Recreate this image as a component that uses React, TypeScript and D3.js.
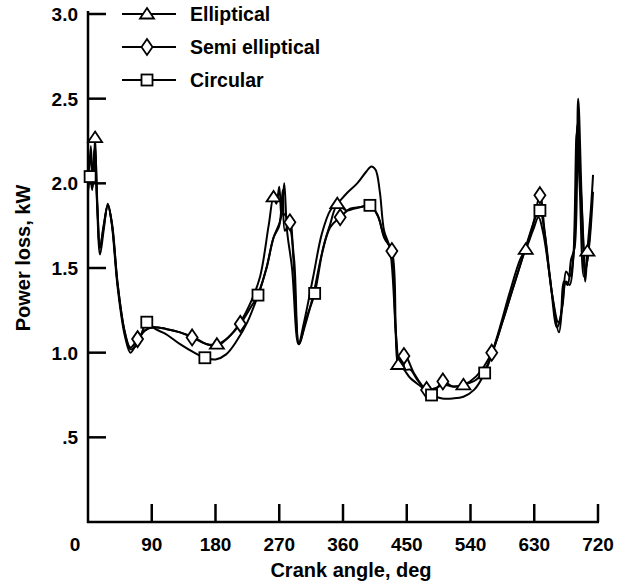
import * as React from 'react'
import * as d3 from 'd3'

// crank angle (deg) / power loss (kW)
const ellipticalAngle = [0, 4, 7, 10, 13, 17, 22, 28, 33, 42, 52, 60, 70, 80, 92, 110, 130, 150, 168, 182, 198, 215, 230, 243, 255, 262, 266, 270, 273, 277, 281, 288, 297, 305, 318, 330, 342, 352, 365, 380, 393, 400, 406, 412, 418, 426, 433, 438, 443, 448, 455, 465, 478, 490, 502, 515, 530, 548, 563, 578, 595, 610, 618, 628, 636, 642, 652, 662, 667, 672, 677, 682, 687, 692, 697, 702, 705, 710, 713]
const ellipticalLoss = [1.95, 2.22, 1.98, 2.27, 1.85, 1.58, 1.72, 1.88, 1.78, 1.38, 1.10, 1.00, 1.07, 1.13, 1.15, 1.14, 1.12, 1.09, 1.05, 1.05, 1.09, 1.18, 1.30, 1.45, 1.75, 1.92, 1.88, 1.98, 1.80, 2.0, 1.72, 1.50, 1.05, 1.18, 1.45, 1.70, 1.84, 1.88, 1.94, 2.0, 2.07, 2.10, 2.08, 1.95, 1.72, 1.62, 1.25, 0.93, 0.98, 0.90, 0.90, 0.84, 0.78, 0.79, 0.81, 0.80, 0.81, 0.84, 0.92, 1.10, 1.35, 1.55, 1.61, 1.72, 1.80, 1.72, 1.45, 1.15, 1.20, 1.42, 1.40, 1.55, 1.62, 2.50, 1.90, 1.42, 1.60, 1.85, 2.05]
const ellipticalMarks = [10, 182, 262, 352, 438, 530, 618, 705]

const semiAngle = [0, 4, 7, 10, 13, 17, 22, 28, 34, 42, 52, 60, 70, 80, 92, 110, 130, 147, 168, 182, 198, 215, 230, 240, 252, 262, 270, 275, 278, 285, 290, 298, 305, 318, 330, 342, 356, 370, 385, 398, 410, 418, 429, 435, 440, 446, 450, 460, 478, 490, 501, 515, 530, 548, 570, 585, 600, 615, 628, 638, 645, 655, 664, 670, 675, 680, 686, 691, 696, 703, 708, 713]
const semiLoss = [1.95, 2.15, 2.05, 2.22, 1.90, 1.62, 1.75, 1.87, 1.75, 1.40, 1.12, 1.03, 1.08, 1.13, 1.15, 1.14, 1.12, 1.09, 1.05, 1.04, 1.09, 1.17, 1.27, 1.34, 1.50, 1.68, 1.75, 1.96, 1.72, 1.77, 1.55, 1.05, 1.14, 1.34, 1.58, 1.74, 1.80, 1.85, 1.86, 1.87, 1.80, 1.68, 1.60, 1.10, 0.92, 0.98, 0.97, 0.88, 0.78, 0.78, 0.83, 0.80, 0.81, 0.86, 1.00, 1.18, 1.38, 1.58, 1.75, 1.93, 1.70, 1.35, 1.18, 1.28, 1.48, 1.45, 1.60, 2.35, 1.95, 1.50, 1.65, 1.95]
const semiMarks = [70, 147, 215, 285, 356, 429, 446, 478, 501, 570, 638]

const circularAngle = [0, 3, 6, 9, 13, 17, 22, 28, 34, 42, 52, 60, 70, 83, 95, 110, 130, 150, 165, 180, 195, 210, 225, 240, 252, 262, 270, 275, 283, 291, 298, 308, 320, 332, 342, 352, 365, 375, 385, 398, 408, 417, 428, 434, 440, 446, 455, 470, 485, 500, 515, 530, 545, 560, 575, 590, 605, 620, 632, 638, 645, 655, 665, 670, 675, 680, 685, 690, 694, 700, 705, 710]
const circularLoss = [1.96, 2.04, 1.96, 2.20, 1.88, 1.62, 1.74, 1.87, 1.76, 1.40, 1.12, 1.02, 1.05, 1.18, 1.14, 1.11, 1.05, 1.00, 0.97, 0.96, 0.99, 1.07, 1.18, 1.34, 1.50, 1.68, 1.76, 1.82, 1.78, 1.55, 1.05, 1.20, 1.35, 1.62, 1.76, 1.87, 1.84, 1.85, 1.86, 1.87, 1.82, 1.70, 1.60, 1.15, 0.92, 0.90, 0.85, 0.80, 0.75, 0.73, 0.73, 0.74, 0.78, 0.88, 1.05, 1.25, 1.45, 1.65, 1.80, 1.84, 1.70, 1.35, 1.12, 1.30, 1.42, 1.40, 1.55, 2.30, 2.00, 1.45, 1.55, 1.80]
const circularMarks = [3, 83, 165, 240, 320, 398, 485, 560, 638]

const xTicks = [0, 90, 180, 270, 360, 450, 540, 630, 720]
const yTicks = [0.5, 1.0, 1.5, 2.0, 2.5, 3.0]
const yTickLabels = ['.5', '1.0', '1.5', '2.0', '2.5', '3.0']

const seriesNames = ['Elliptical', 'Semi elliptical', 'Circular']
const seriesShapes = ['triangle', 'diamond', 'square']

const font = '"Liberation Sans", Arial, Helvetica, sans-serif'

type Pt = [number, number]

function Marker({ shape, x, y }: { shape: string; x: number; y: number }) {
  const common = { fill: '#fff', stroke: '#000', strokeWidth: 1.8 }
  if (shape === 'triangle') {
    return <path d={`M${x},${y - 6}L${x + 7},${y + 4.5}L${x - 7},${y + 4.5}Z`} {...common} />
  }
  if (shape === 'diamond') {
    return <path d={`M${x},${y - 8}L${x + 5.5},${y}L${x},${y + 8}L${x - 5.5},${y}Z`} {...common} />
  }
  return <rect x={x - 5.5} y={y - 5.5} width={11} height={11} {...common} />
}

export default function App() {
  const width = 634
  const height = 585
  const x = d3.scaleLinear().domain([0, 720]).range([88, 598])
  const y = d3.scaleLinear().domain([0, 3]).range([522, 14])

  const series = [
    { angle: ellipticalAngle, loss: ellipticalLoss, marks: ellipticalMarks },
    { angle: semiAngle, loss: semiLoss, marks: semiMarks },
    { angle: circularAngle, loss: circularLoss, marks: circularMarks },
  ]

  const line = d3.line<Pt>()
    .x(d => x(d[0]))
    .y(d => y(d[1]))
    .curve(d3.curveCatmullRom.alpha(0.5))

  return (
    <svg width={width} height={height} style={{ position: 'absolute', left: 0, top: 0, background: '#fff' }}>
      {/* axes */}
      <g stroke="#000" strokeWidth={2.5} fill="none">
        <line x1={x(0)} x2={x(0)} y1={y(3) - 3} y2={y(0) + 1} />
        <line x1={x(0) - 1} x2={x(720) + 1} y1={y(0)} y2={y(0)} />
        {yTicks.map(t => (
          <line key={t} x1={x(0)} x2={x(0) + 18} y1={y(t)} y2={y(t)} />
        ))}
        {xTicks.slice(1).map(t => (
          <line key={t} x1={x(t)} x2={x(t)} y1={y(0)} y2={y(0) - 18} />
        ))}
      </g>
      <g fontFamily={font} fontWeight="bold" fontSize={19} fill="#000">
        {yTicks.map((t, i) => (
          <text key={t} x={78} y={y(t)} dy="0.36em" textAnchor="end">{yTickLabels[i]}</text>
        ))}
        {xTicks.map(t => (
          <text key={t} x={t === 0 ? 75 : x(t)} y={544} dy="0.36em" textAnchor="middle">{t}</text>
        ))}
        <text x={351} y={570} dy="0.36em" textAnchor="middle" fontSize={20}>Crank angle, deg</text>
        <text transform="translate(23,258) rotate(-90)" dy="0.36em" textAnchor="middle" fontSize={20}>Power loss, kW</text>
      </g>

      {/* curves */}
      <g fill="none" stroke="#000" strokeWidth={2} strokeLinejoin="round">
        {series.map((s, i) => (
          <path key={i} d={line(s.angle.map((a, j) => [a, s.loss[j]] as Pt)) || ''} />
        ))}
      </g>
      {series.map((s, i) => (
        <g key={i}>
          {s.angle.map((a, j) =>
            s.marks.includes(a)
              ? <Marker key={j} shape={seriesShapes[i]} x={x(a)} y={y(s.loss[j])} />
              : null
          )}
        </g>
      ))}

      {/* legend */}
      {seriesNames.map((name, i) => {
        const ly = 14 + i * 33
        return (
          <g key={name}>
            <line x1={122} x2={176} y1={ly} y2={ly} stroke="#000" strokeWidth={2} />
            <Marker shape={seriesShapes[i]} x={147} y={ly} />
            <text x={190} y={ly} dy="0.36em" fontFamily={font} fontWeight="bold" fontSize={19.5}>{name}</text>
          </g>
        )
      })}
    </svg>
  )
}
